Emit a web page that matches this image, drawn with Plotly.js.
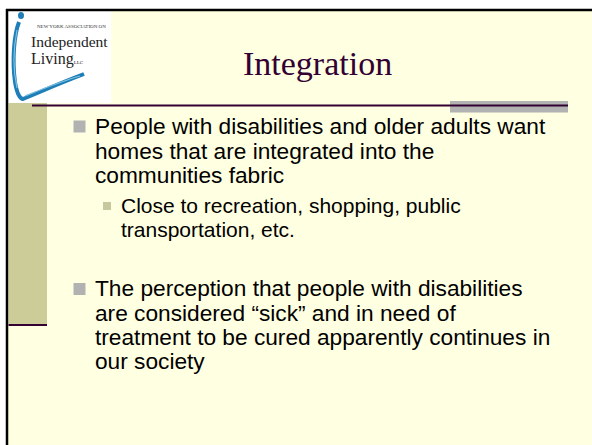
<!DOCTYPE html>
<html>
<head>
<meta charset="utf-8">
<script src="https://cdn.plot.ly/plotly-3.0.1.min.js"></script>
<style>html,body{margin:0;padding:0;background:#fff;}#chart{width:592px;height:445px;}</style>
</head>
<body>
<div id="chart"></div>
<script>
// Slide content
const titleText = "Integration";
const bullet1Lines = ["People with disabilities and older adults want", "homes that are integrated into the", "communities fabric"];
const bullet1Baselines = [134, 158.5, 183];
const subBulletLines = ["Close to recreation, shopping, public", "transportation, etc."];
const subBulletBaselines = [212.5, 236.5];
const bullet2Lines = ["The perception that people with disabilities", "are considered \u201csick\u201d and in need of", "treatment to be cured apparently continues in", "our society"];
const bullet2Baselines = [296, 320.5, 344.5, 369];
const logoLines = ["NEW YORK ASSOCIATION ON", "Independent", "Living"];

const MAIN_FS = 22.7, SUB_FS = 21;
const SANS = "Liberation Sans, Arial, sans-serif";
const SERIF = "Liberation Serif, Times New Roman, serif";

const annotations = [];
function addLine(text, x, baseline, fs, font, color) {
  annotations.push({
    text: text, x: x, y: baseline - 0.35 * fs, xref: 'x', yref: 'y',
    xanchor: 'left', yanchor: 'middle', showarrow: false,
    font: {family: font, size: fs, color: color}
  });
}
bullet1Lines.forEach((t, i) => addLine(t, 92.5, bullet1Baselines[i], MAIN_FS, SANS, '#000'));
subBulletLines.forEach((t, i) => addLine(t, 119, subBulletBaselines[i], SUB_FS, SANS, '#000'));
bullet2Lines.forEach((t, i) => addLine(t, 92.5, bullet2Baselines[i], MAIN_FS, SANS, '#000'));

// Title
annotations.push({text: titleText, x: 317, y: 63.5, xref: 'x', yref: 'y', xanchor: 'center', yanchor: 'middle',
  showarrow: false, font: {family: SERIF, size: 34, color: '#330033'}});
// Logo texts
annotations.push({text: logoLines[0], x: 35, y: 26, xref: 'x', yref: 'y', xanchor: 'left', yanchor: 'middle',
  showarrow: false, font: {family: SERIF, size: 5, color: '#333'}});
annotations.push({text: logoLines[1], x: 29, y: 41, xref: 'x', yref: 'y', xanchor: 'left', yanchor: 'middle',
  showarrow: false, font: {family: SERIF, size: 15.5, color: '#222'}});
annotations.push({text: logoLines[2] + '<span style="font-size:5px">LLC</span>', x: 29, y: 59, xref: 'x', yref: 'y', xanchor: 'left', yanchor: 'middle',
  showarrow: false, font: {family: SERIF, size: 16, color: '#222'}});

const PURPLE = '#330033', OLIVE = '#CCCC99', GRAY = '#B2B2B2', BG = '#FFFFE1';
const shapes = [
  {type: 'rect', x0: 7, y0: 10, x1: 592, y1: 445, fillcolor: BG, line: {width: 0}, layer: 'below'},
  {type: 'rect', x0: 8.5, y0: 11, x1: 111, y1: 103, fillcolor: '#FFFFFF', line: {width: 0}},
  {type: 'rect', x0: 8.5, y0: 103, x1: 47, y1: 324, fillcolor: OLIVE, line: {width: 0}},
  {type: 'line', x0: 8.5, y0: 325, x1: 47, y1: 325, line: {color: PURPLE, width: 2}},
  {type: 'rect', x0: 450, y0: 101, x1: 568, y1: 112.5, fillcolor: GRAY, line: {width: 0}},
  {type: 'line', x0: 32, y0: 105.5, x1: 568, y1: 105.5, line: {color: PURPLE, width: 2}},
  {type: 'line', x0: 6, y0: 10, x1: 592, y1: 10, line: {color: '#000', width: 2.5}},
  {type: 'line', x0: 7, y0: 9, x1: 7, y1: 445, line: {color: '#000', width: 2.5}},
  // bullets
  {type: 'rect', x0: 73.5, y0: 120.5, x1: 85.5, y1: 132.5, fillcolor: GRAY, line: {width: 0}},
  {type: 'rect', x0: 103, y0: 202, x1: 111, y1: 210, fillcolor: '#C8C8A0', line: {width: 0}},
  {type: 'rect', x0: 73.5, y0: 283, x1: 85.5, y1: 295, fillcolor: GRAY, line: {width: 0}},
  // logo swoosh
  {type: 'path', path: 'M 19 22 C 14 35, 12 60, 15 82 C 17 94, 20 99, 23 99 C 40 92, 60 83, 84 74',
    line: {color: '#1E7FB8', width: 4}},
  {type: 'path', path: 'M 17 30 C 13 50, 13 70, 17 88 M 25 96 C 45 88, 62 81, 80 76',
    line: {color: '#7FC0E0', width: 1.2}},
  {type: 'circle', x0: 18, y0: 12, x1: 24, y1: 19, fillcolor: '#1E7FB8', line: {width: 0}}
];

const layout = {
  width: 592, height: 445,
  margin: {l: 0, r: 0, t: 0, b: 0},
  paper_bgcolor: '#FFFFFF', plot_bgcolor: '#FFFFFF',
  xaxis: {range: [0, 592], visible: false, fixedrange: true},
  yaxis: {range: [445, 0], visible: false, fixedrange: true},
  showlegend: false,
  shapes: shapes,
  annotations: annotations
};
Plotly.newPlot('chart', [{x: [], y: [], type: 'scatter', mode: 'markers', hoverinfo: 'skip'}], layout, {displayModeBar: false, staticPlot: true});
</script>
</body>
</html>
